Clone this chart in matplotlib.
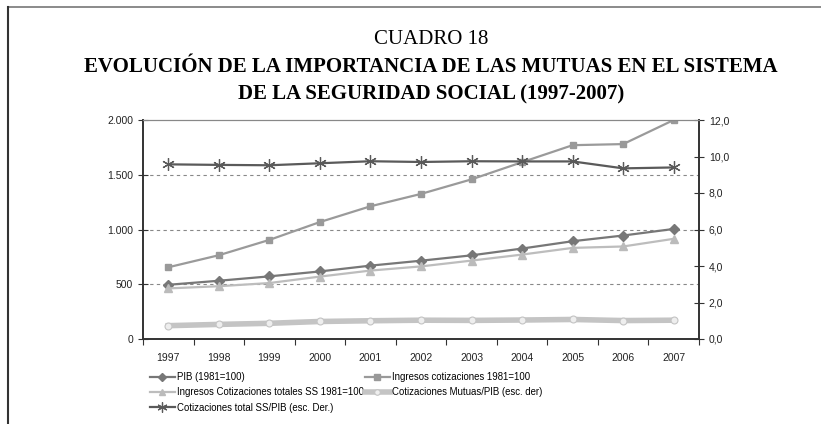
import numpy as np
import matplotlib
matplotlib.use("Agg")
import matplotlib.pyplot as plt
from matplotlib.lines import Line2D
from matplotlib.ticker import FuncFormatter

# datos
years = ['1997', '1998', '1999', '2000', '2001', '2002', '2003', '2004', '2005', '2006', '2007']
pib = [495, 532, 572, 617, 670, 715, 764, 826, 893, 945, 1005]
ing_cot = [655, 765, 905, 1068, 1212, 1325, 1458, 1615, 1770, 1780, 2000]
ing_tot = [462, 482, 511, 570, 625, 663, 716, 771, 832, 845, 915]
mutuas_pib = [0.73, 0.80, 0.86, 0.96, 1.00, 1.03, 1.02, 1.04, 1.07, 1.01, 1.03]
total_ss_pib = [9.57, 9.54, 9.52, 9.63, 9.74, 9.70, 9.74, 9.73, 9.73, 9.35, 9.40]

labels = ['PIB (1981=100)', 'Ingresos cotizaciones 1981=100',
          'Ingresos Cotizaciones totales SS 1981=100',
          'Cotizaciones Mutuas/PIB (esc. der)',
          'Cotizaciones total SS/PIB (esc. Der.)']

plt.rcParams['font.family'] = ['Liberation Sans', 'DejaVu Sans']

fig = plt.figure(figsize=(8.21, 4.24), dpi=100)

# marco exterior (solo arriba e izquierda)
fig.add_artist(Line2D([8/821, 1.0], [1-7/424, 1-7/424], color='#777777', lw=1.2))
fig.add_artist(Line2D([8/821, 8/821], [0, 1-7/424], color='#333333', lw=1.5))

serif = ['Liberation Serif', 'DejaVu Serif']
cx = 0.525
fig.text(cx, 1-40/424, 'CUADRO 18', ha='center', va='center', fontsize=15, family=serif)
fig.text(cx, 1-67/424, 'EVOLUCIÓN DE LA IMPORTANCIA DE LAS MUTUAS EN EL SISTEMA',
         ha='center', va='center', fontsize=15, fontweight='bold', family=serif)
fig.text(cx, 1-94/424, 'DE LA SEGURIDAD SOCIAL (1997-2007)',
         ha='center', va='center', fontsize=15, fontweight='bold', family=serif)

ax = fig.add_axes([143/821, 1-339/424, 556/821, 219/424])
ax2 = ax.twinx()

x = np.arange(len(years))

h1, = ax.plot(x, pib, color='#777777', lw=1.6, marker='D', ms=5.5, mfc='#777777', mec='#777777')
h2, = ax.plot(x, ing_cot, color='#9a9a9a', lw=1.6, marker='s', ms=5, mfc='#999999', mec='#999999')
h3, = ax.plot(x, ing_tot, color='#bdbdbd', lw=1.6, marker='^', ms=6, mfc='#bbbbbb', mec='#bbbbbb')
h4, = ax2.plot(x, mutuas_pib, color='#c4c4c4', lw=4, marker='o', ms=5, mfc='#eeeeee', mec='#c4c4c4', mew=0.8)
h5, = ax2.plot(x, total_ss_pib, color='#5a5a5a', lw=1.6, marker=(6, 2, 0), ms=9, mec='#5a5a5a', mew=0.9)

ax.set_xlim(-0.5, len(years) - 0.5)
ax.set_ylim(0, 2000)
ax2.set_ylim(0, 12)

ax.set_yticks([0, 500, 1000, 1500, 2000])
ax.yaxis.set_major_formatter(FuncFormatter(lambda v, p: f'{int(v):,}'.replace(',', '.')))
ax2.set_yticks(np.arange(0, 13, 2))
ax2.yaxis.set_major_formatter(FuncFormatter(lambda v, p: f'{v:.1f}'.replace('.', ',')))

ax.set_xticks(np.arange(-0.5, len(years), 1))
ax.set_xticklabels([])
ax.set_xticks(x, minor=True)
ax.set_xticklabels(years, minor=True)
ax.tick_params(axis='x', which='minor', length=0, pad=10, labelsize=7.5, colors='#222222')
ax.tick_params(axis='x', which='major', direction='out', length=4, color='#333333')
ax.tick_params(axis='y', direction='inout', length=7, labelsize=7.5, colors='#222222', color='#333333')
ax2.tick_params(axis='y', direction='inout', length=7, labelsize=7.5, colors='#222222', color='#333333')

for a in (ax, ax2):
    for s in ('left', 'right', 'bottom'):
        a.spines[s].set_color('#333333')
        a.spines[s].set_linewidth(1.2)
    a.spines['top'].set_color('#888888')
    a.spines['top'].set_linewidth(0.8)

for v in [500, 1000, 1500]:
    ax.axhline(v, color='#888888', lw=0.8, ls=(0, (3, 3)), zorder=0)

fig.legend([h1, h3, h5, h2, h4], [labels[0], labels[2], labels[4], labels[1], labels[3]],
           ncol=2, loc='upper left', bbox_to_anchor=(150/821, 1-372/424),
           frameon=False, fontsize=6.9, handlelength=2.6, handletextpad=0.2,
           columnspacing=0.1, labelspacing=0.55, borderaxespad=0, borderpad=0,
           markerscale=0.8)

fig.savefig('out.png', dpi=100)
